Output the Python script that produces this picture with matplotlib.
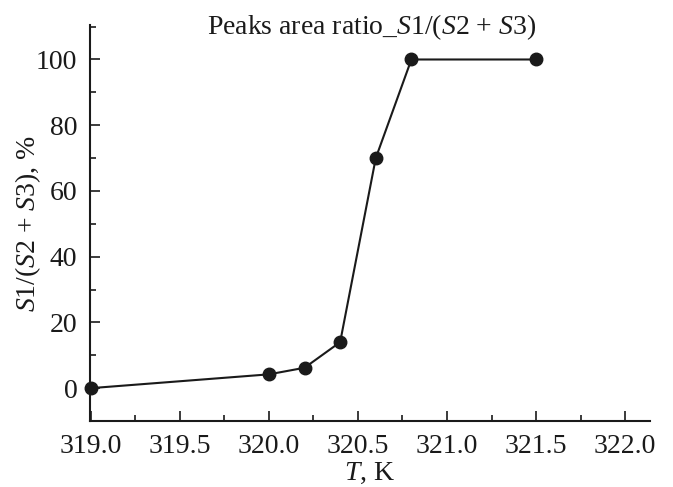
import matplotlib
matplotlib.use("Agg")
import matplotlib.pyplot as plt
from matplotlib.ticker import MultipleLocator

temperature = [319.0, 320.0, 320.2, 320.4, 320.6, 320.8, 321.5]
ratio = [0.0, 4.2, 6.2, 14.0, 70.0, 100.0, 100.0]
xticks = [319.0, 319.5, 320.0, 320.5, 321.0, 321.5, 322.0]
yticks = [0, 20, 40, 60, 80, 100]

plt.rcParams['font.family'] = ['Liberation Serif', 'DejaVu Serif']
plt.rcParams['mathtext.fontset'] = 'custom'
plt.rcParams['mathtext.rm'] = 'Liberation Serif'
plt.rcParams['mathtext.it'] = 'Liberation Serif:italic'
plt.rcParams['mathtext.bf'] = 'Liberation Serif:bold'

fig = plt.figure(figsize=(6.73, 4.87), dpi=100)
ax = fig.add_axes([0.1337, 0.1355, 0.8321, 0.8132])

ax.plot(temperature, ratio, color='#1a1a1a', lw=1.5, marker='o', ms=9, clip_on=False, zorder=3)

ax.set_xlim(318.995, 322.14)
ax.set_ylim(-10, 110.5)
ax.set_xticks(xticks)
ax.set_xticklabels([f"{v:.1f}" for v in xticks])
ax.set_yticks(yticks)
ax.xaxis.set_minor_locator(MultipleLocator(0.25))
ax.yaxis.set_minor_locator(MultipleLocator(10))

for s in ['top', 'right']:
    ax.spines[s].set_visible(False)
for s in ['left', 'bottom']:
    ax.spines[s].set_linewidth(1.5)
    ax.spines[s].set_color('#1a1a1a')

ax.tick_params(which='both', direction='in', width=1.2, colors='#1a1a1a', labelsize=20)
ax.tick_params(axis='x', which='major', length=7, pad=9)
ax.tick_params(axis='y', which='major', length=7, pad=9)
ax.tick_params(which='minor', length=4)

ax.set_xlabel(r'$T$, K', fontsize=20, color='#1a1a1a')
ax.xaxis.set_label_coords(0.5, -0.101)
ax.set_ylabel(r'$S$1/($S$2 + $S$3), %', fontsize=20, color='#1a1a1a')
ax.yaxis.set_label_coords(-0.083, 0.5)
fig.text(371.5 / 673, 1 - 27 / 487, r'Peaks area ratio_$S$1/($S$2 + $S$3)',
         fontsize=20, ha='center', va='center', color='#1a1a1a')

fig.savefig('out.png', dpi=100)
